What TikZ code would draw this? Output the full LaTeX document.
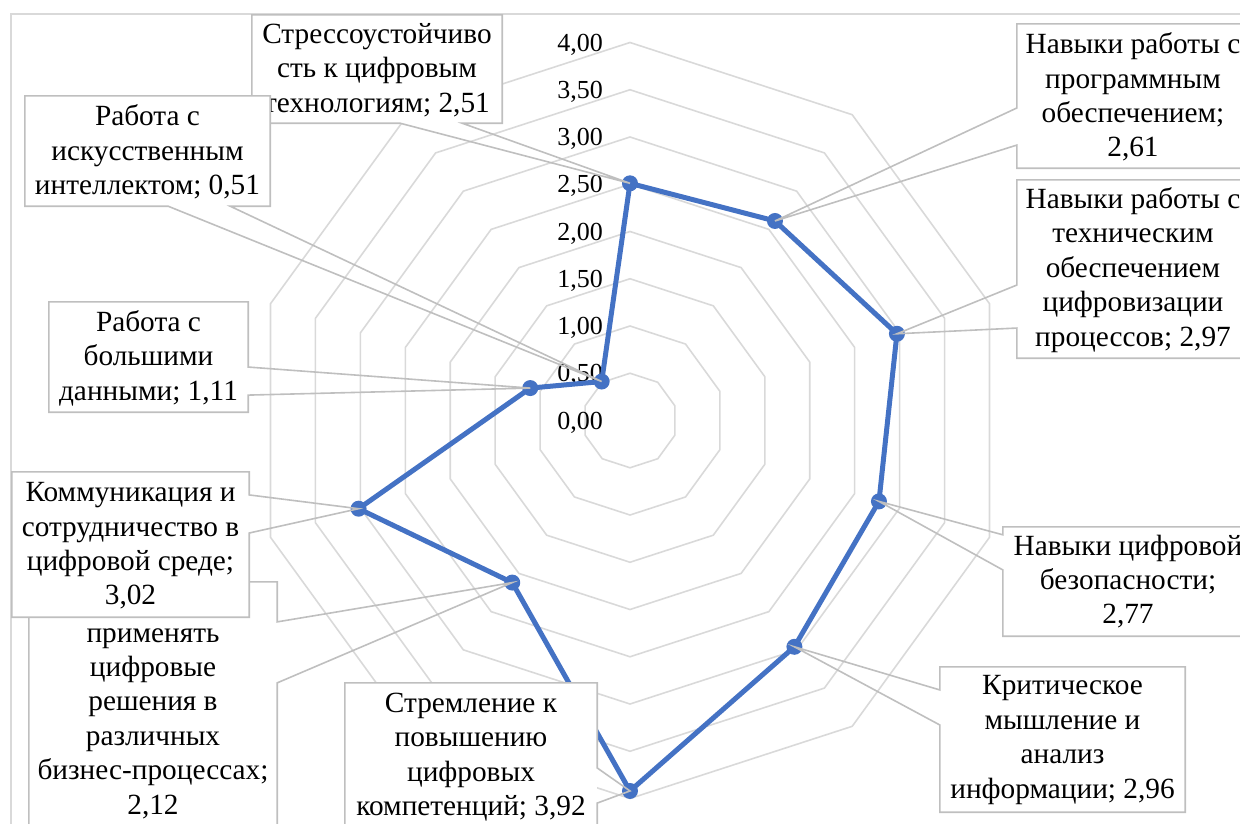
\documentclass[tikz,border=0pt]{standalone}
\usepackage{fontspec}
\setmainfont{Liberation Serif}
\usetikzlibrary{calc}
\definecolor{gridgray}{HTML}{D9D9D9}
\definecolor{calloutgray}{HTML}{BFBFBF}
\definecolor{seriesblue}{HTML}{4472C4}

\begin{document}
\begin{tikzpicture}[x=1pt,y=-1pt,
  gridline/.style={draw=gridgray, line width=1.6pt},
  frameline/.style={draw=gridgray, line width=1.6pt},
  boxfill/.style={fill=white, draw=none, inner sep=0pt},
  outline/.style={draw=calloutgray, line width=1.6pt, line join=miter},
  lbl/.style={align=center, font=\fontsize{29.3}{34.4}\selectfont, inner sep=0pt},
  axlbl/.style={anchor=east, font=\fontsize{26}{30}\selectfont, inner sep=0pt},
  series/.style={draw=seriesblue, line width=5pt, line join=round},
  marker/.style={fill=seriesblue}
]
\useasboundingbox (0,0) rectangle (1240,823);
\clip (0,0) rectangle (1240,823);

% plot area frame
\draw[frameline] (11,14) rectangle (1300,900);

% decagonal grid, step 0.50
\foreach \k in {1,...,8}{
  \draw[gridline] plot[samples at={0,36,...,324}]
    ({630+47.25*\k*sin(\x)},{420.5-47.25*\k*cos(\x)}) -- cycle;
}

% value axis labels
\node[axlbl] (v0) at (603,422.5) {0,00};
\node[axlbl] (v1) at (603,375.25) {0,50};
\node[axlbl] (v2) at (603,328) {1,00};
\node[axlbl] (v3) at (603,280.75) {1,50};
\node[axlbl] (v4) at (603,233.5) {2,00};
\node[axlbl] (v5) at (603,186.25) {2,50};
\node[axlbl] (v6) at (603,139) {3,00};
\node[axlbl] (v7) at (603,91.75) {3,50};
\node[axlbl] (v8) at (603,44.5) {4,00};

% data points
\foreach \v [count=\i from 0] in {2.51,2.61,2.97,2.77,2.96,3.92,2.12,3.02,1.11,0.51}
  \coordinate (p\i) at ({630+94.5*\v*sin(36*\i)},{420.5-94.5*\v*cos(36*\i)});

\draw[series] (p0) -- (p1) -- (p2) -- (p3) -- (p4) -- (p5) -- (p6) -- (p7) -- (p8) -- (p9) -- cycle;
\foreach \i in {0,...,9} \fill[marker] (p\i) circle (8pt);

% callout 1
\node[boxfill, minimum width=250pt, minimum height=108pt] (c1) at (377,69) {};
\draw[outline] (c1.north west) -- (c1.north east) -- (c1.south east)
  -- ($(c1.south west)!0.84!(c1.south east)$) -- (p0)
  -- ($(c1.south west)!0.592!(c1.south east)$) -- (c1.south west) -- cycle;
\node[lbl] (t1) at (377,70) {Стрессоустойчиво\\сть к цифровым\\технологиям; 2,51};

% callout 2 (right side, top)
\node[boxfill, minimum width=240pt, minimum height=144pt] (c6) at (1137,96) {};
\draw[outline] (c6.south east) -- (c6.south west)
  -- ($(c6.north west)!0.84!(c6.south west)$) -- (p1)
  -- ($(c6.north west)!0.583!(c6.south west)$) -- (c6.north west) -- (c6.north east);
\node[lbl] (t6) at (1133,97) {Навыки работы с\\программным\\обеспечением;\\2,61};

% callout 3
\node[boxfill, minimum width=240pt, minimum height=178pt] (c7) at (1137,269) {};
\draw[outline] (c7.south east) -- (c7.south west)
  -- ($(c7.north west)!0.831!(c7.south west)$) -- (p2)
  -- ($(c7.north west)!0.59!(c7.south west)$) -- (c7.north west) -- (c7.north east);
\node[lbl] (t7) at (1133,270) {Навыки работы с\\техническим\\обеспечением\\цифровизации\\процессов; 2,97};

% callout 4
\node[boxfill, minimum width=260pt, minimum height=109pt] (c8) at (1133,581.5) {};
\draw[outline] (c8.south east) -- (c8.south west)
  -- ($(c8.north west)!0.394!(c8.south west)$) -- (p3)
  -- ($(c8.north west)!0.073!(c8.south west)$) -- (c8.north west) -- (c8.north east);
\node[lbl] (t8) at (1128,581.5) {Навыки цифровой\\безопасности;\\2,77};

% callout 5
\node[boxfill, minimum width=245pt, minimum height=145pt] (c9) at (1062.5,739.5) {};
\draw[outline] (c9.north west) -- (c9.north east) -- (c9.south east) -- (c9.south west)
  -- ($(c9.north west)!0.4!(c9.south west)$) -- (p4)
  -- ($(c9.north west)!0.159!(c9.south west)$) -- cycle;
\node[lbl] (t9) at (1062.5,740) {Критическое\\мышление и\\анализ\\информации; 2,96};

% callout 6
\node[boxfill, minimum width=252pt, minimum height=177pt] (c10) at (471,771.5) {};
\draw[outline] (c10.south west) -- (c10.north west) -- (c10.north east)
  -- ($(c10.north east)!0.48!(c10.south east)$) -- (p5)
  -- ($(c10.north east)!0.678!(c10.south east)$) -- (c10.south east);
\node[lbl] (t10) at (471,757) {Стремление к\\повышению\\цифровых\\компетенций; 3,92};

% callout 7
\node[boxfill, minimum width=248pt, minimum height=278pt] (c5) at (153,721) {};
\draw[outline] (c5.south west) -- (c5.north west) -- (c5.north east)
  -- ($(c5.north east)!0.144!(c5.south east)$) -- (p6)
  -- ($(c5.north east)!0.363!(c5.south east)$) -- (c5.south east);
\node[lbl] (t5) at (153,723.5) {применять\\цифровые\\решения в\\различных\\бизнес-процессах;\\2,12};

% callout 8
\node[boxfill, minimum width=237pt, minimum height=145pt] (c4) at (130.5,544.5) {};
\draw[outline] (c4.north west) -- (c4.north east)
  -- ($(c4.north east)!0.159!(c4.south east)$) -- (p7)
  -- ($(c4.north east)!0.421!(c4.south east)$) -- (c4.south east)
  -- (c4.south west) -- cycle;
\node[lbl] (t4) at (130.5,546) {Коммуникация и\\сотрудничество в\\цифровой среде;\\3,02};

% callout 9
\node[boxfill, minimum width=199pt, minimum height=110pt] (c3) at (148.5,357) {};
\draw[outline] (c3.north west) -- (c3.north east)
  -- ($(c3.north east)!0.591!(c3.south east)$) -- (p8)
  -- ($(c3.north east)!0.845!(c3.south east)$) -- (c3.south east)
  -- (c3.south west) -- cycle;
\node[lbl] (t3) at (148.5,358) {Работа с\\большими\\данными; 1,11};

% callout 10
\node[boxfill, minimum width=245pt, minimum height=110pt] (c2) at (147.5,151) {};
\draw[outline] (c2.north west) -- (c2.north east) -- (c2.south east)
  -- ($(c2.south west)!0.837!(c2.south east)$) -- (p9)
  -- ($(c2.south west)!0.584!(c2.south east)$) -- (c2.south west) -- cycle;
\node[lbl] (t2) at (147.5,152) {Работа с\\искусственным\\интеллектом; 0,51};

\end{tikzpicture}
\end{document}
